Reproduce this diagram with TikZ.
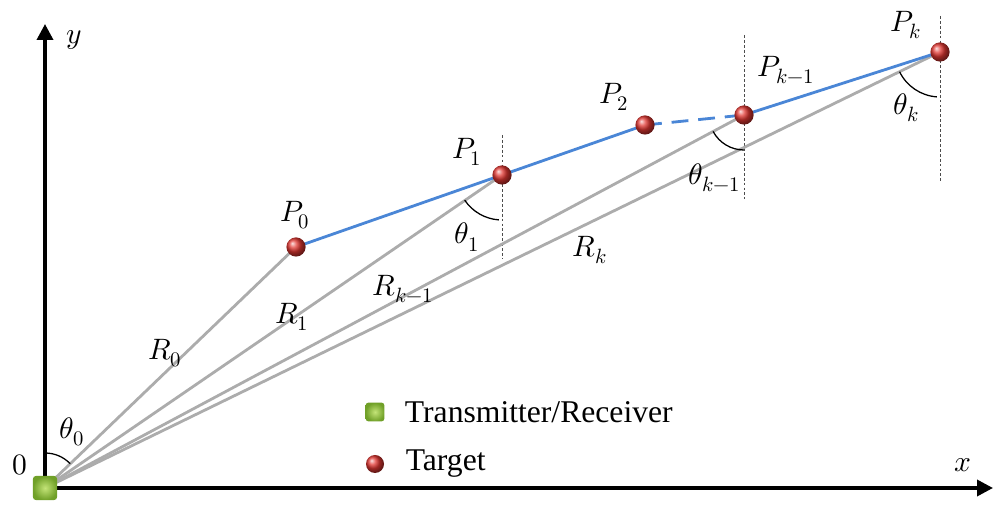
\documentclass[tikz,border=0pt]{standalone}
\usepackage{amsmath}
\usepackage{fontspec}
\usepackage{unicode-math}
\setmainfont{Liberation Serif}
\setmathfont{Latin Modern Math}
\usetikzlibrary{positioning,arrows.meta}
\definecolor{trackblue}{RGB}{74,134,214}
\definecolor{raygray}{RGB}{172,172,172}
\definecolor{boxlight}{RGB}{196,228,120}
\definecolor{boxdark}{RGB}{112,160,40}
\definecolor{ballred}{RGB}{225,55,50}

\begin{document}
\begin{tikzpicture}[x=0.025cm,y=0.025cm,
  axis/.style={line width=2.5pt, -{Triangle[length=4mm,width=4mm]}},
  ray/.style={raygray, line width=2pt},
  track/.style={trackblue, line width=2pt},
  guide/.style={dashed, dash pattern=on 2pt off 1.5pt, line width=0.4pt, black!70},
  anglearc/.style={line width=0.9pt},
  target/.style={circle, inner sep=0pt, minimum size=0.48cm, ball color=ballred},
  radar/.style={rounded corners=2pt, inner sep=0pt, minimum size=0.6cm,
    inner color=boxlight, outer color=boxdark},
  lbl/.style={font=\fontsize{21}{24}\selectfont},
  key/.style={font=\fontsize{22.5}{26}\selectfont, inner sep=0pt}]
\useasboundingbox (0,0) rectangle (994,506);

% positions
\coordinate (o) at (45,18);
\coordinate (p0) at (296,259);
\coordinate (p1) at (502,331);
\coordinate (p2) at (645,381);
\coordinate (pkm) at (744,391);
\coordinate (pk) at (940,454);
\coordinate (ytip) at (45,482);
\coordinate (xtip) at (993,18);

% axes
\draw[axis] (o) -- (ytip);
\draw[axis] (o) -- (xtip);

% vertical guides
\draw[guide] ([yshift=1cm]p1) -- ([yshift=-2.1cm]p1);
\draw[guide] ([yshift=2cm]pkm) -- ([yshift=-2.1cm]pkm);
\draw[guide] ([yshift=0.9cm]pk) -- ([yshift=-3.25cm]pk);

% ranges
\draw[ray] (o) -- (p0);
\draw[ray] (o) -- (p1);
\draw[ray] (o) -- (pkm);
\draw[ray] (o) -- (pk);

% trajectory
\draw[track] (p0) -- (p1) -- (p2);
\draw[track, dashed, dash pattern=on 12pt off 7pt] (p2) -- (pkm);
\draw[track] (pkm) -- (pk);

% angles
\draw[anglearc] (o) ++(90:35) arc[start angle=90, end angle=44, radius=35];
\draw[anglearc] (p1) ++(214:45) arc[start angle=214, end angle=266, radius=45];
\draw[anglearc] (pkm) ++(208:35) arc[start angle=208, end angle=270, radius=35];
\draw[anglearc] (pk) ++(206:45) arc[start angle=206, end angle=266, radius=45];

% targets and radar
\node[radar] (tx) at (o) {};
\node[target] (b0) at (p0) {};
\node[target] (b1) at (p1) {};
\node[target] (b2) at (p2) {};
\node[target] (bkm) at (pkm) {};
\node[target] (bk) at (pk) {};

% labels
\node[lbl] (ly) at (74,466) {$y$};
\node[lbl] (lx) at (963,41) {$x$};
\node[lbl] (lo) at (20,41) {$0$};
\node[lbl] (lt0) at (72,74) {$\theta_0$};
\node[lbl] (lp0) at (295,291) {$P_0$};
\node[lbl] (lp1) at (467,354) {$P_1$};
\node[lbl] (lp2) at (614,409) {$P_2$};
\node[lbl] (lpkm) at (786,436) {$P_{k-1}$};
\node[lbl] (lpk) at (906,481) {$P_k$};
\node[lbl] (lt1) at (467,269) {$\theta_1$};
\node[lbl] (ltkm) at (715,328) {$\theta_{k-1}$};
\node[lbl] (ltk) at (906,398) {$\theta_k$};
\node[lbl] (lr0) at (165,153) {$R_0$};
\node[lbl] (lr1) at (292,189) {$R_1$};
\node[lbl] (lrkm) at (403,217) {$R_{k-1}$};
\node[lbl] (lrk) at (590,256) {$R_k$};

% legend
\node[radar, minimum size=0.47cm] (keytx) at (375,94) {};
\node[key, right=0.5cm of keytx] (keytxtext) {Transmitter/Receiver};
\node[target, minimum size=0.45cm] (keyball) at (375,42) {};
\node[key, right=0.53cm of keyball] (keyballtext) {Target};
\end{tikzpicture}
\end{document}
